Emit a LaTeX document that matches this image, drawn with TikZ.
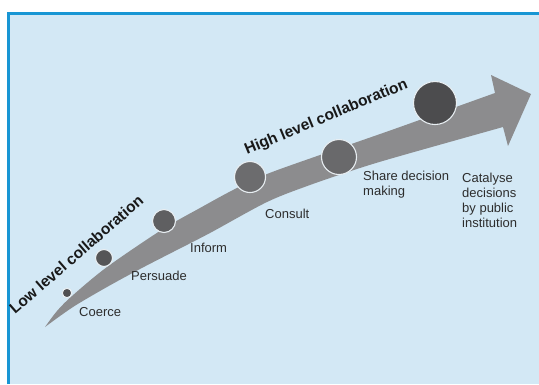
\documentclass[tikz,border=0pt]{standalone}
\usepackage{fontspec}
\setmainfont{Liberation Sans}
\newfontfamily\headfont{Liberation Sans}
\definecolor{panelfill}{RGB}{211,232,245}
\definecolor{panelline}{RGB}{24,150,212}
\definecolor{shaftgray}{RGB}{140,140,142}
\definecolor{halo}{RGB}{232,238,242}
\definecolor{labelgray}{RGB}{45,45,45}
\begin{document}
\begin{tikzpicture}[x=1pt,y=-1pt,
  dot/.style={circle, inner sep=0pt, draw=halo, line width=1.1pt},
  steplabel/.style={anchor=base west, inner sep=0pt, text=labelgray,
    font=\fontsize{13}{15}\selectfont, align=left},
  levellabel/.style={anchor=base west, inner sep=0pt, text=black!90,
    font=\headfont\bfseries\fontsize{15.5}{18}\selectfont}]
  \useasboundingbox (0,0) rectangle (539,384);
  % panel
  \fill[white] (0,0) rectangle (539,384);
  \fill[panelfill] (8.7,13.4) rectangle (539,384);
  \draw[panelline, line width=2.7pt] (8.7,384) -- (8.7,13.4) -- (539,13.4);

  % curved arrow
  \fill[shaftgray]
    plot[smooth, tension=0.5] coordinates {(45,327) (57,311) (72,296) (107,267)
      (163,229) (200,208) (233,190) (267,174) (320,155) (360,141) (400,127) (495,93)}
    -- (491,75) -- (531,94) -- (508,146) -- (503,127)
    -- plot[smooth, tension=0.5] coordinates {(503,127) (400,156) (360,168) (310,185)
      (267,202) (210,233) (173,252) (140,269) (107,287) (73,307) (45,327)}
    -- cycle;

  % stage dots
  \node[dot, fill={rgb,255:red,80;green,80;blue,82},   minimum size=9.5pt] (coerce)   at (67,293) {};
  \node[dot, fill={rgb,255:red,85;green,85;blue,87},   minimum size=17pt] (persuade) at (104,258) {};
  \node[dot, fill={rgb,255:red,95;green,95;blue,97},   minimum size=23pt] (inform)   at (164,221) {};
  \node[dot, fill={rgb,255:red,108;green,108;blue,110},minimum size=31pt] (consult)  at (250,177) {};
  \node[dot, fill={rgb,255:red,105;green,105;blue,107},minimum size=35pt] (share)    at (339,157) {};
  \node[dot, fill={rgb,255:red,76;green,76;blue,78},   minimum size=43pt] (catalyse) at (435,103) {};

  % stage labels (multi-line labels are placed by their last baseline)
  \node[steplabel] (coercelbl)   at (79,316)  {Coerce};
  \node[steplabel] (persuadelbl) at (131,280) {Persuade};
  \node[steplabel] (informlbl)   at (190,252) {Inform};
  \node[steplabel] (consultlbl)  at (265,218) {Consult};
  \node[steplabel] (sharelbl)    at (363,195) {Share decision\\making};
  \node[steplabel] (catalyselbl) at (462,227) {Catalyse\\decisions\\by public\\institution};

  % level captions
  \node[levellabel, rotate=41] (lowlbl)  at (15,315) {Low level collaboration};
  \node[levellabel, rotate=22.6] (highlbl) at (247,155) {High level collaboration};
\end{tikzpicture}
\end{document}
